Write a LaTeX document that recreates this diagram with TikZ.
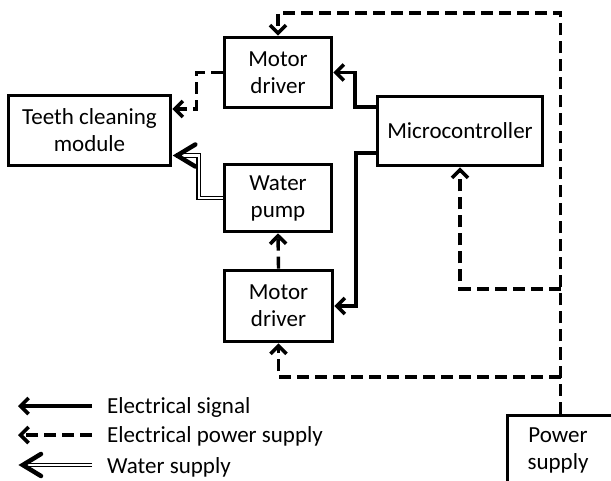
\documentclass[tikz,border=0pt]{standalone}
\usepackage{fontspec}
\setmainfont{Carlito}
\usetikzlibrary{arrows.meta,calc}
\begin{document}
\begin{tikzpicture}[x=1pt,y=-1pt,
  txt/.style={font=\fontsize{23}{27}\selectfont},
  box/.style={draw, line width=3.6pt, align=center, inner sep=0pt, txt},
  tipend/.style={-{Straight Barb[length=8pt,width=16pt,line width=3.6pt]}},
  sig/.style={line width=3.4pt, tipend},
  pw/.style={line width=3.4pt, dash pattern=on 12pt off 6pt, tipend},
  wat/.style={line width=1.2pt, double distance=2.4pt},
  chev/.style={line width=4.5pt, line join=miter, line cap=round}]
\useasboundingbox (0,0) rectangle (611,481);
\clip (0,0) rectangle (611,481);
% boxes
\node[box, minimum width=162pt, minimum height=70pt] (tcm) at (89.5,130.5) {Teeth cleaning\\module};
\node[box, minimum width=107pt, minimum height=70pt] (md1) at (278,72.5) {Motor\\driver};
\node[box, minimum width=107pt, minimum height=67pt] (wp) at (278,198) {Water\\pump};
\node[box, minimum width=108pt, minimum height=71pt] (md2) at (278.5,306) {Motor\\driver};
\node[box, minimum width=165pt, minimum height=69pt] (mc) at (460,131) {Microcontroller};
\node[box, minimum width=130pt, minimum height=100pt, anchor=north west] (ps) at (505.5,413.5) {};
\node[txt, align=center, inner sep=0pt] (pstext) at (558,450) {Power\\supply};
% power bus
\coordinate (psin) at ($(ps.north west)+(55,0)$);
\draw[pw] (psin) -- (psin |- 0,13) -| (md1.north);
\draw[pw] (psin |- 0,289) -| (mc.south);
\draw[pw] (psin |- 0,377) -| (md2.south);
\draw[pw] (md1.west) -- ++(-26,0) |- ($(tcm.east)+(0,-21.5)$);
\draw[pw] (md2.north) -- (wp.south);
% signals
\coordinate (mcA) at ($(mc.west)+(0,-24)$);
\coordinate (mcB) at ($(mc.west)+(0,22)$);
\draw[sig] (mcA) -- (mcA -| 355,0) |- (md1.east);
\draw[sig] (mcB) -- (mcB -| 356,0) |- (md2.east);
% water
\coordinate (wtip) at ($(tcm.east)+(0,25)$);
\draw[wat] (wp.west) -- ++(-24,0) |- ($(wtip)+(4,0)$);
\draw[chev] ($(wtip)+(23,-11)$) -- ($(wtip)+(4.8,0)$) -- ($(wtip)+(23,11)$);
% legend
\coordinate (l1s) at (92,406); \coordinate (l1e) at (18,406);
\coordinate (l2s) at (92,435); \coordinate (l2e) at (18,435);
\coordinate (l3s) at (92,465); \coordinate (l3e) at (18,465);
\draw[sig] (l1s) -- (l1e);
\draw[pw] (l2s) -- (l2e);
\draw[wat] (l3s) -- ($(l3e)+(4,0)$);
\draw[chev] ($(l3e)+(23,-11)$) -- ($(l3e)+(4.8,0)$) -- ($(l3e)+(23,11)$);
\node[txt, anchor=base west, inner sep=0pt] (lt1) at (107,413) {Electrical signal};
\node[txt, anchor=base west, inner sep=0pt] (lt2) at (107,442) {Electrical power supply};
\node[txt, anchor=base west, inner sep=0pt] (lt3) at (107,473) {Water supply};
\end{tikzpicture}
\end{document}
